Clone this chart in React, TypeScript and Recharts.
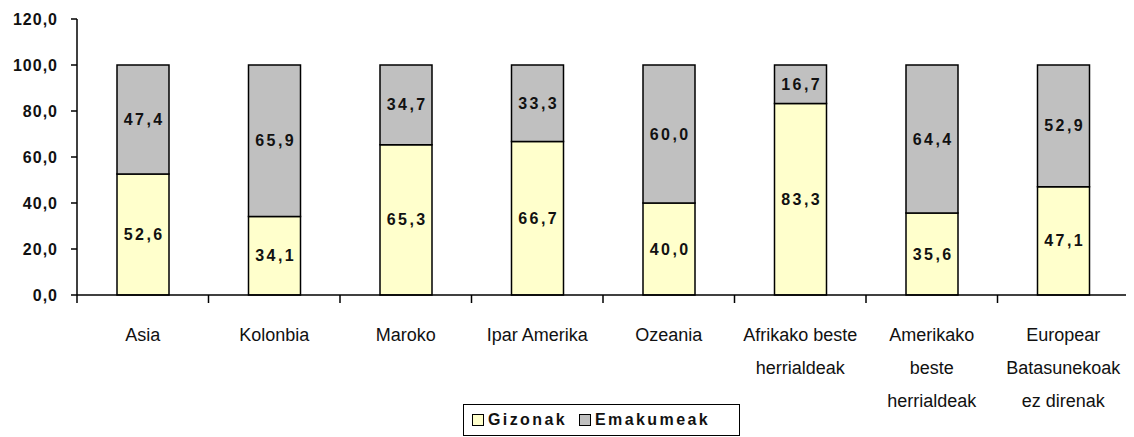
import React from "react";
import { BarChart, Bar, XAxis, YAxis, LabelList } from "recharts";

const categories: string[] = [
  "Asia",
  "Kolonbia",
  "Maroko",
  "Ipar Amerika",
  "Ozeania",
  "Afrikako beste\nherrialdeak",
  "Amerikako\nbeste\nherrialdeak",
  "Europear\nBatasunekoak\nez direnak",
];
const gizonak: number[] = [52.6, 34.1, 65.3, 66.7, 40.0, 83.3, 35.6, 47.1];
const emakumeak: number[] = [47.4, 65.9, 34.7, 33.3, 60.0, 16.7, 64.4, 52.9];
const yTicks: number[] = [0, 20, 40, 60, 80, 100, 120];
const seriesNames = { gizonak: "Gizonak", emakumeak: "Emakumeak" };

const data = categories.map((c, i) => ({
  name: c,
  gizonak: gizonak[i],
  emakumeak: emakumeak[i],
}));

const W = 1126;
const H = 429;
const MARGIN = { top: 11, right: 5, bottom: 0, left: 0 };
const Y_W = 69;
const BAND = (W - MARGIN.left - MARGIN.right - Y_W) / categories.length;
const FONT = "'Liberation Sans', Arial, sans-serif";
const YELLOW = "#FFFFCC";
const GRAY = "#C0C0C0";

const fmt = (v: number) => v.toFixed(1).replace(".", ",");

const XTick = (props: any) => {
  const { x, y, payload, index } = props;
  const lines = String(payload.value).split("\n");
  return (
    <g>
      <line x1={x + BAND / 2} x2={x + BAND / 2} y1={y} y2={y + 8} stroke="#000" strokeWidth={1.5} />
      {index === 0 && (
        <line x1={x - BAND / 2} x2={x - BAND / 2} y1={y} y2={y + 8} stroke="#000" strokeWidth={1.5} />
      )}
      <text x={x} y={y + 46} textAnchor="middle" fontFamily={FONT} fontSize={18} fill="#111">
        {lines.map((l, i) => (
          <tspan key={i} x={x} dy={i === 0 ? 0 : 33}>
            {l}
          </tspan>
        ))}
      </text>
    </g>
  );
};

const SegLabel = (props: any) => {
  const { x, y, width, height, value } = props;
  return (
    <text
      x={x + width / 2 + 1.2}
      y={y + height / 2}
      textAnchor="middle"
      dominantBaseline="central"
      fontFamily={FONT}
      fontSize={16}
      fontWeight="bold"
      letterSpacing={2.4}
      fill="#111"
    >
      {fmt(Number(value))}
    </text>
  );
};

const LegendItem = ({ color, label }: { color: string; label: string }) => (
  <div style={{ display: "flex", alignItems: "center", marginRight: 12 }}>
    <div
      style={{
        width: 10,
        height: 10,
        background: color,
        border: "1.5px solid #000",
        marginRight: 4,
      }}
    />
    <span
      style={{
        fontFamily: FONT,
        fontSize: 16,
        fontWeight: "bold",
        letterSpacing: 2.4,
        color: "#111",
      }}
    >
      {label}
    </span>
  </div>
);

export default function App() {
  return (
    <div style={{ position: "relative", width: W, height: H }}>
      <BarChart width={W} height={H} data={data} margin={MARGIN} barSize={52}>
        <XAxis
          dataKey="name"
          interval={0}
          height={H - MARGIN.top - 276}
          tickSize={0}
          tickMargin={0}
          tick={<XTick />}
          axisLine={{ stroke: "#000", strokeWidth: 1.5 }}
          tickLine={false}
        />
        <YAxis
          width={Y_W}
          domain={[0, 120]}
          ticks={yTicks}
          tickFormatter={fmt}
          tickSize={6}
          tickMargin={13}
          axisLine={{ stroke: "#000", strokeWidth: 1.5 }}
          tickLine={{ stroke: "#000", strokeWidth: 1.5 }}
          tick={{
            fontFamily: FONT,
            fontSize: 16,
            fontWeight: "bold",
            fill: "#111",
            letterSpacing: 1,
          }}
        />
        <Bar
          dataKey="gizonak"
          name={seriesNames.gizonak}
          stackId="a"
          fill={YELLOW}
          stroke="#000"
          strokeWidth={1.5}
          isAnimationActive={false}
        >
          <LabelList dataKey="gizonak" content={<SegLabel />} />
        </Bar>
        <Bar
          dataKey="emakumeak"
          name={seriesNames.emakumeak}
          stackId="a"
          fill={GRAY}
          stroke="#000"
          strokeWidth={1.5}
          isAnimationActive={false}
        >
          <LabelList dataKey="emakumeak" content={<SegLabel />} />
        </Bar>
      </BarChart>
      <div
        style={{
          position: "absolute",
          left: 455,
          top: 396,
          width: 277,
          height: 32,
          border: "1.5px solid #000",
          display: "flex",
          alignItems: "center",
          paddingLeft: 8,
          boxSizing: "border-box",
          background: "#fff",
        }}
      >
        <LegendItem color={YELLOW} label={seriesNames.gizonak} />
        <LegendItem color={GRAY} label={seriesNames.emakumeak} />
      </div>
    </div>
  );
}
